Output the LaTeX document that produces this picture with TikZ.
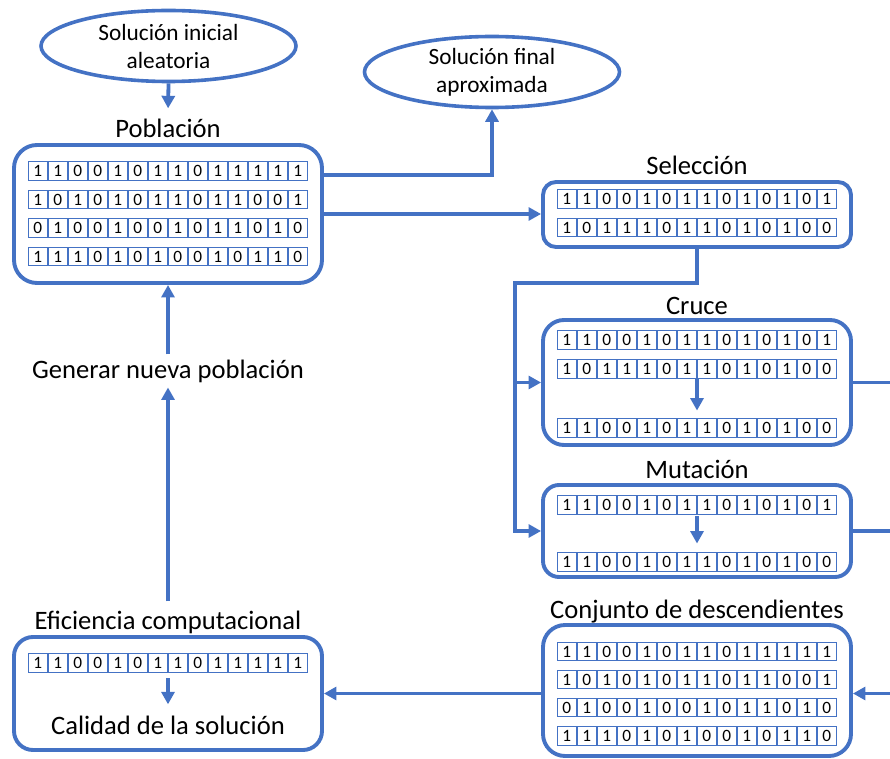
\documentclass[tikz,border=0pt]{standalone}
\usepackage{fontspec}
\setmainfont{Carlito}
\usetikzlibrary{shapes.geometric,arrows.meta,calc}
\definecolor{accent}{HTML}{4472C4}

% one chromosome: a row of 14 bit cells, centred at (#2,#3), named #1
\newcommand\bitrow[4]{%
  \node[rowbox] (#1) at (#2,#3) {};
  \foreach \b [count=\i from 0] in {#4} {
    \node[cell] (#1-\i) at ($(#1.west)+(\i*20+10,0)$) {\b};
  }%
}

\begin{document}
\begin{tikzpicture}[x=1pt,y=-1pt,
  panel/.style={draw=accent, line width=3.9pt, rounded corners=#1,
    minimum width=308pt, inner sep=0pt},
  oval/.style={ellipse, draw=accent, line width=3.6pt, minimum width=255pt,
    minimum height=71pt, align=center, inner sep=0pt,
    font=\fontsize{23.3}{28}\selectfont},
  lab/.style={anchor=base, inner sep=5pt, font=\fontsize{26.6}{30}\selectfont},
  rowbox/.style={minimum width=280pt, minimum height=18.5pt, inner sep=0pt},
  cell/.style={draw=accent, line width=0.9pt, minimum width=18.6pt,
    minimum height=18.5pt, inner sep=0pt, font=\fontsize{17.3}{18}\selectfont},
  conn/.style={draw=accent, line width=3.8pt, -{Triangle[length=12.5pt,width=13pt]}},
  wire/.style={draw=accent, line width=3.8pt}
]
\useasboundingbox (0,0) rectangle (890,759);
\coordinate (rim) at (896,0);

% start and end of the algorithm
\node[oval] (init) at (168.5,46) {Solución inicial\\aleatoria};
\node[oval] (final) at (492,72) {Solución final\\aproximada};

% population
\node[lab] (poplab) at (168,138) {Población};
\node[panel=23pt, minimum height=138pt] (pop) at (168,214) {};
\bitrow{p1}{168}{171}{1,1,0,0,1,0,1,1,0,1,1,1,1,1}
\bitrow{p2}{168}{199.5}{1,0,1,0,1,0,1,1,0,1,1,0,0,1}
\bitrow{p3}{168}{228}{0,1,0,0,1,0,0,1,0,1,1,0,1,0}
\bitrow{p4}{168}{256.5}{1,1,1,0,1,0,1,0,0,1,0,1,1,0}

% selection
\node[lab] (sellab) at (697,175) {Selección};
\node[panel=13pt, minimum height=65pt] (sel) at (697,214.5) {};
\bitrow{s1}{697}{199}{1,1,0,0,1,0,1,1,0,1,0,1,0,1}
\bitrow{s2}{697}{227.5}{1,0,1,1,1,0,1,1,0,1,0,1,0,0}

% crossover
\node[lab] (crulab) at (697,314) {Cruce};
\node[panel=21pt, minimum height=125pt] (cru) at (697,382.5) {};
\bitrow{c1}{697}{340}{1,1,0,0,1,0,1,1,0,1,0,1,0,1}
\bitrow{c2}{697}{369}{1,0,1,1,1,0,1,1,0,1,0,1,0,0}
\bitrow{c3}{697}{428}{1,1,0,0,1,0,1,1,0,1,0,1,0,0}

% mutation
\node[lab] (mutlab) at (697,478) {Mutación};
\node[panel=16pt, minimum height=92pt] (mut) at (697,531) {};
\bitrow{m1}{697}{505}{1,1,0,0,1,0,1,1,0,1,0,1,0,1}
\bitrow{m2}{697}{562}{1,1,0,0,1,0,1,1,0,1,0,1,0,0}

% offspring
\node[lab] (deslab) at (697,618) {Conjunto de descendientes};
\node[panel=22pt, minimum height=131pt] (des) at (697,690.5) {};
\bitrow{d1}{697}{651.5}{1,1,0,0,1,0,1,1,0,1,1,1,1,1}
\bitrow{d2}{697}{679.5}{1,0,1,0,1,0,1,1,0,1,1,0,0,1}
\bitrow{d3}{697}{707.5}{0,1,0,0,1,0,0,1,0,1,1,0,1,0}
\bitrow{d4}{697}{736}{1,1,1,0,1,0,1,0,0,1,0,1,1,0}

% evaluation
\node[lab] (efflab) at (168,629) {Eficiencia computacional};
\node[panel=19pt, minimum height=113pt] (eff) at (168,693.5) {};
\bitrow{e1}{168}{663}{1,1,0,0,1,0,1,1,0,1,1,1,1,1}
\node[lab] (cal) at (168,734) {Calidad de la solución};

\node[lab] (gen) at (168,378) {Generar nueva población};

% connectors
\draw[conn, shorten >=6pt] (init.south) -- (poplab.north);
\draw[conn] ([yshift=39pt]pop.east) -| (final.south);
\draw[conn] (pop.east) -- (pop.east -| sel.west);
\coordinate (split) at (515,283);
\draw[conn] (sel.south) |- (split) |- (mut.west);
\draw[conn] (split |- cru.west) -- (cru.west);
\draw[wire] (cru.east) -- (cru.east -| rim);
\draw[wire] (mut.east) -- (mut.east -| rim);
\draw[conn] (rim |- eff.east) -- (eff.east -| des.east);
\draw[conn] (eff.east -| des.west) -- (eff.east);
\draw[conn, shorten >=8pt] (c2.south) -- (c3.north);
\draw[conn, shorten <=2pt, shorten >=9pt] (m1.south) -- (m2.north);
\draw[conn, shorten <=6pt, shorten >=6pt] (e1.south) -- (cal.north);
\draw[conn, shorten <=4pt] (efflab.north) -- (gen.south);
\draw[conn] (gen.north) -- (pop.south);
\end{tikzpicture}
\end{document}
